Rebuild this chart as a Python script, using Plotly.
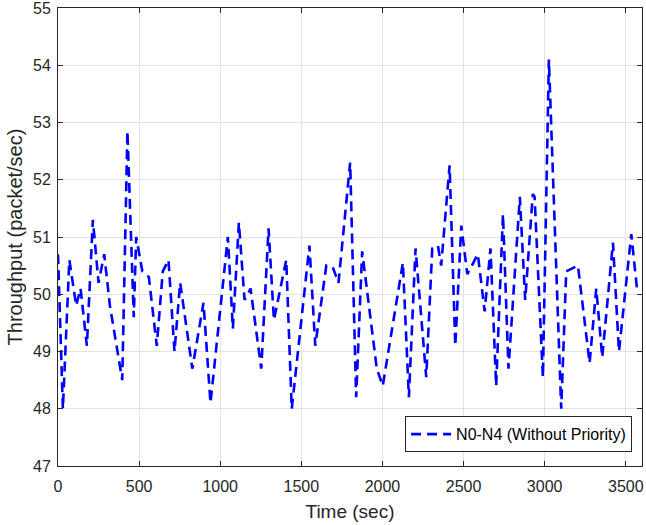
import plotly.graph_objects as go

time_sec = [0, 30, 70, 85, 112, 139, 178, 215, 250, 285, 300, 320, 396, 428, 467, 482,
            520, 560, 609, 646, 681, 718, 753, 828, 897, 940, 1047, 1078, 1115, 1150,
            1187, 1253, 1298, 1331, 1407, 1441, 1550, 1586, 1654, 1694, 1729, 1801,
            1838, 1875, 1965, 2002, 2126, 2163, 2204, 2270, 2307, 2342, 2362, 2414,
            2449, 2486, 2523, 2588, 2630, 2666, 2701, 2743, 2777, 2847, 2880, 2927,
            2938, 2989, 3026, 3102, 3133, 3205, 3277, 3318, 3355, 3421, 3458, 3534, 3569]
throughput = [50.7, 48.0, 50.6, 50.3, 49.8, 50.1, 49.1, 51.3, 50.2, 50.7, 50.3, 49.8, 48.5, 52.85, 49.6, 51.0,
              50.4, 50.3, 49.1, 50.4, 50.6, 49.0, 50.2, 48.7, 49.85, 48.1, 51.0, 49.4, 51.25, 49.9,
              50.1, 48.7, 51.15, 49.55, 50.6, 48.0, 50.85, 49.1, 50.5, 50.47, 50.2, 52.3,
              48.2, 50.75, 48.7, 48.4, 50.55, 48.2, 50.8, 48.55, 50.8, 50.85, 50.5, 52.25,
              49.1, 51.2, 50.35, 50.7, 49.7, 50.8, 48.4, 51.4, 48.7, 51.7, 49.9, 51.75,
              51.7, 48.55, 54.1, 48.0, 50.4, 50.5, 48.8, 50.1, 48.9, 50.9, 49.0, 51.05, 50.1]
series_name = "N0-N4 (Without Priority)"
x_ticks = [0, 500, 1000, 1500, 2000, 2500, 3000, 3500]
y_ticks = [47, 48, 49, 50, 51, 52, 53, 54, 55]

axis_color = "#262626"
grid_color = "#e3e3e3"
font_family = "Liberation Sans, Arial, sans-serif"

fig = go.Figure()
fig.add_trace(go.Scatter(
    x=time_sec, y=throughput, mode="lines", name=series_name,
    line=dict(color="#0000ff", width=2.6, dash="10px,6px"),
))

common = dict(showline=True, linecolor=axis_color, linewidth=1, mirror="ticks",
              ticks="inside", ticklen=5, tickcolor=axis_color, showgrid=True,
              gridcolor=grid_color, gridwidth=1, zeroline=False,
              ticklabeloverflow="allow",
              tickfont=dict(family=font_family, size=16, color=axis_color))

fig.update_xaxes(range=[0, 3600], tickvals=x_ticks, ticklabelstandoff=6,
                 title=dict(text="Time (sec)", font=dict(family=font_family, size=19, color=axis_color), standoff=10),
                 **common)
fig.update_yaxes(range=[47, 55], tickvals=y_ticks, ticklabelstandoff=3,
                 title=dict(text="Throughput (packet/sec)", font=dict(family=font_family, size=20, color=axis_color), standoff=5),
                 **common)

fig.update_layout(
    width=646, height=525,
    margin=dict(l=58, r=4, t=8, b=59, autoexpand=False),
    paper_bgcolor="white", plot_bgcolor="white",
    showlegend=True,
    legend=dict(x=0.983, y=0.03, xanchor="right", yanchor="bottom",
                bgcolor="white", bordercolor=axis_color, borderwidth=1,
                font=dict(family=font_family, size=16, color="#000000"),
                itemwidth=40, tracegroupgap=0),
)

fig.write_html("out.html", config={"displayModeBar": False},
               post_script="document.body.style.margin='0';")
